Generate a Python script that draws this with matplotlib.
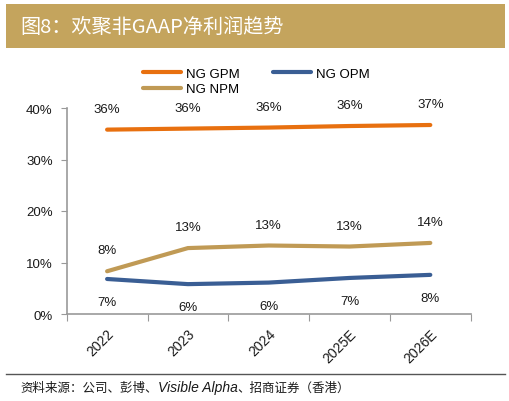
import matplotlib
matplotlib.use("Agg")
import matplotlib.pyplot as plt
from matplotlib.patches import Rectangle
from matplotlib.lines import Line2D

plt.rcParams['font.family'] = ['Liberation Sans', 'Noto Sans CJK SC', 'DejaVu Sans']

categories = ["2022", "2023", "2024", "2025E", "2026E"]
gpm = [35.8, 36.0, 36.2, 36.5, 36.7]
opm = [6.8, 5.8, 6.1, 7.0, 7.6]
npm = [8.3, 12.8, 13.3, 13.1, 13.8]
gpm_labels = ["36%", "36%", "36%", "36%", "37%"]
opm_labels = ["7%", "6%", "6%", "7%", "8%"]
npm_labels = ["8%", "13%", "13%", "13%", "14%"]
yticks = [0, 10, 20, 30, 40]
ytick_labels = ["0%", "10%", "20%", "30%", "40%"]

W, H = 510, 402
fig = plt.figure(figsize=(W / 100, H / 100), dpi=100)

# title bar
fig.patches.append(Rectangle((6 / W, 1 - 49 / H), (505 - 6) / W, 44 / H,
                             transform=fig.transFigure, facecolor="#C4A45D",
                             edgecolor="none", zorder=0))
fig.text(20 / W, 1 - 27 / H, "图8：欢聚非GAAP净利润趋势", color="white",
         fontsize=14.5, va="center", ha="left",
         family=['Noto Sans CJK SC', 'Liberation Sans'])

ax = fig.add_axes([66.7 / W, 1 - 315 / H, (470.7 - 66.7) / W, (315 - 109) / H])
x = list(range(len(categories)))
c_gpm, c_opm, c_npm = "#E8700F", "#3A5E94", "#C09A55"
lw = 3.0
ax.plot(x, gpm, color=c_gpm, lw=lw, solid_capstyle="round", zorder=3)
ax.plot(x, opm, color=c_opm, lw=lw, solid_capstyle="round", zorder=3)
ax.plot(x, npm, color=c_npm, lw=lw, solid_capstyle="round", zorder=3)

fs = 9.5
for i in x:
    ax.annotate(gpm_labels[i], (i, gpm[i]), xytext=(0, 15), textcoords="offset points",
                ha="center", va="center", fontsize=fs, color="#1a1a1a")
    ax.annotate(npm_labels[i], (i, npm[i]), xytext=(0, 15), textcoords="offset points",
                ha="center", va="center", fontsize=fs, color="#1a1a1a")
    ax.annotate(opm_labels[i], (i, opm[i]), xytext=(0, -16.5), textcoords="offset points",
                ha="center", va="center", fontsize=fs, color="#1a1a1a")

ax.set_xlim(-0.5, len(categories) - 0.5)
ax.set_ylim(0, 40)
ax.set_yticks(yticks)
ax.set_yticklabels(ytick_labels, fontsize=fs, color="#1a1a1a")
ax.set_xticks([i + 0.5 for i in range(-1, len(categories))], minor=False)
ax.set_xticklabels([])
ax.set_xticks(x, minor=True)
ax.set_xticklabels(categories, minor=True, rotation=45, ha="right",
                   rotation_mode="anchor", fontsize=10, color="#1a1a1a")
ax.tick_params(axis="x", which="minor", length=0, pad=9)
ax.tick_params(axis="x", which="major", length=5, color="#999999", direction="out")
ax.tick_params(axis="y", length=4, color="#999999", direction="out", pad=6)
for s in ["top", "right"]:
    ax.spines[s].set_visible(False)
ax.spines["left"].set_color("#999999")
ax.spines["bottom"].set_color("#999999")
ax.spines["left"].set_linewidth(1.2)
ax.spines["bottom"].set_linewidth(1.2)

h_gpm = Line2D([], [], color=c_gpm, lw=lw, solid_capstyle="round")
h_opm = Line2D([], [], color=c_opm, lw=lw, solid_capstyle="round")
h_npm = Line2D([], [], color=c_npm, lw=lw, solid_capstyle="round")
fig.legend([h_gpm, h_npm, h_opm], ["NG GPM", "NG NPM", "NG OPM"], ncol=2, frameon=False,
           loc="upper left", bbox_to_anchor=(136 / W, 1 - 62 / H),
           fontsize=fs, handlelength=2.9, handletextpad=0.38,
           columnspacing=2.5, labelspacing=0.25, borderpad=0)

# source line and text
fig.add_artist(Line2D([6 / W, 505 / W], [1 - 375 / H, 1 - 375 / H],
                      transform=fig.transFigure, color="#555555", lw=1))
t1 = fig.text(20 / W, 1 - 388 / H, "资料来源：公司、彭博、",
              fontsize=9, va="center", ha="left", color="#1a1a1a",
              family=['Noto Sans CJK SC', 'Liberation Sans'])
t2 = ax.annotate("Visible Alpha", xy=(1, 0.5), xycoords=t1, xytext=(0, 0),
                 textcoords="offset points", fontsize=10, style="italic",
                 va="center", ha="left", color="#1a1a1a", family=['Liberation Sans'],
                 annotation_clip=False)
t3 = ax.annotate("、招商证券（香港）", xy=(1, 0.5), xycoords=t2, xytext=(0, 0),
                 textcoords="offset points", fontsize=9, va="center", ha="left",
                 color="#1a1a1a", family=['Noto Sans CJK SC', 'Liberation Sans'],
                 annotation_clip=False)

fig.savefig("out.png", dpi=100)
